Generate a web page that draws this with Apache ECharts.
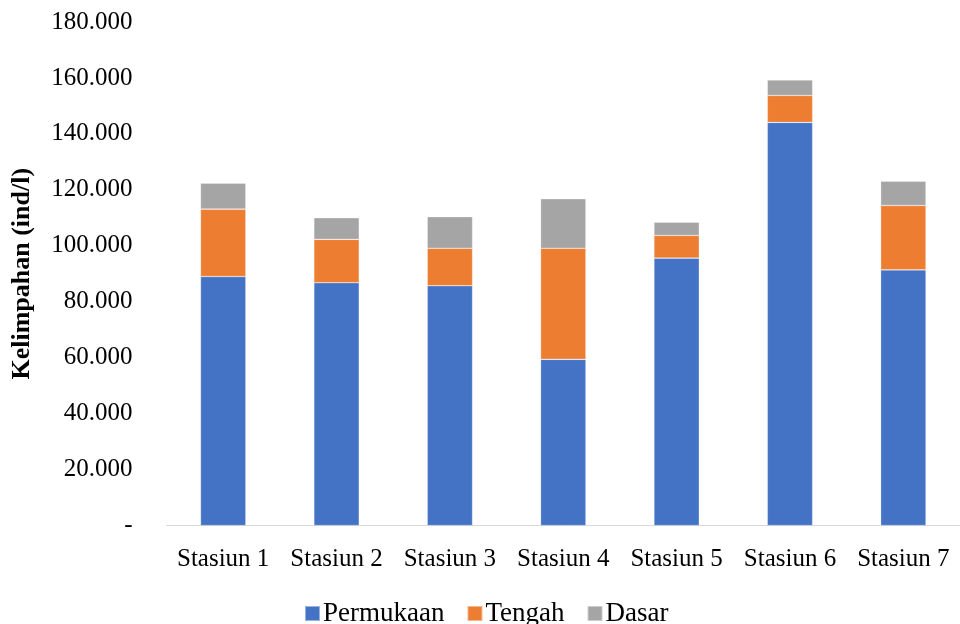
<!DOCTYPE html>
<html>
<head>
<meta charset="utf-8">
<script src="https://cdn.jsdelivr.net/npm/echarts@6/dist/echarts.min.js"></script>
<style>
  html, body { margin: 0; padding: 0; background: #fff; }
  #chart { width: 960px; height: 624px; }
</style>
</head>
<body>
<div id="chart"></div>
<script>
// Plankton abundance per station, split by depth layer (ind/l)
const categories = ['Stasiun 1', 'Stasiun 2', 'Stasiun 3', 'Stasiun 4', 'Stasiun 5', 'Stasiun 6', 'Stasiun 7'];
const permukaan = [89000, 86800, 85700, 59400, 95600, 144100, 91400];
const tengah = [24100, 15500, 13400, 39700, 8100, 9650, 23000];
const dasar = [9300, 7700, 11300, 17700, 4750, 5500, 8700];
const seriesNames = ['Permukaan', 'Tengah', 'Dasar'];
const colors = ['#4472C4', '#ED7D31', '#A5A5A5'];

const FONT = '"Liberation Serif", "Times New Roman", serif';

function fmt(v) {
  if (v === 0) return '-';
  return String(v).replace(/\B(?=(\d{3})+(?!\d))/g, '.');
}

const chart = echarts.init(document.getElementById('chart'), null, { renderer: 'canvas' });

const values = [permukaan, tengah, dasar];

chart.setOption({
  animation: false,
  backgroundColor: '#fff',
  color: colors,
  grid: { left: 166.5, top: 22, width: 798.5, height: 503.5, containLabel: false },
  legend: {
    data: seriesNames,
    left: 299,
    top: 595,
    itemWidth: 15,
    itemHeight: 15,
    itemGap: 22,
    icon: 'rect',
    textStyle: { fontFamily: FONT, fontSize: 27, color: '#000', padding: [0, 0, 0, -2] }
  },
  xAxis: {
    type: 'category',
    data: categories,
    axisLine: { lineStyle: { color: '#d9d9d9', width: 1 } },
    axisTick: { show: false },
    axisLabel: { fontFamily: FONT, fontSize: 25, color: '#000', margin: 21, interval: 0 }
  },
  yAxis: {
    type: 'value',
    min: 0,
    max: 180000,
    interval: 20000,
    name: 'Kelimpahan (ind/l)',
    nameLocation: 'middle',
    nameGap: 131,
    nameTextStyle: { fontFamily: FONT, fontSize: 26, fontWeight: 'bold', color: '#000' },
    axisLine: { show: false },
    axisTick: { show: false },
    splitLine: { show: false },
    axisLabel: { fontFamily: FONT, fontSize: 25, color: '#000', margin: 34, padding: [4, 0, 0, 0], formatter: fmt }
  },
  series: seriesNames.map((name, i) => ({
    name: name,
    type: 'bar',
    stack: 'total',
    barWidth: '40%',
    data: values[i],
    itemStyle: { color: colors[i], borderColor: 'rgba(255,255,255,0.45)', borderWidth: 0.6 }
  }))
});
</script>
</body>
</html>
